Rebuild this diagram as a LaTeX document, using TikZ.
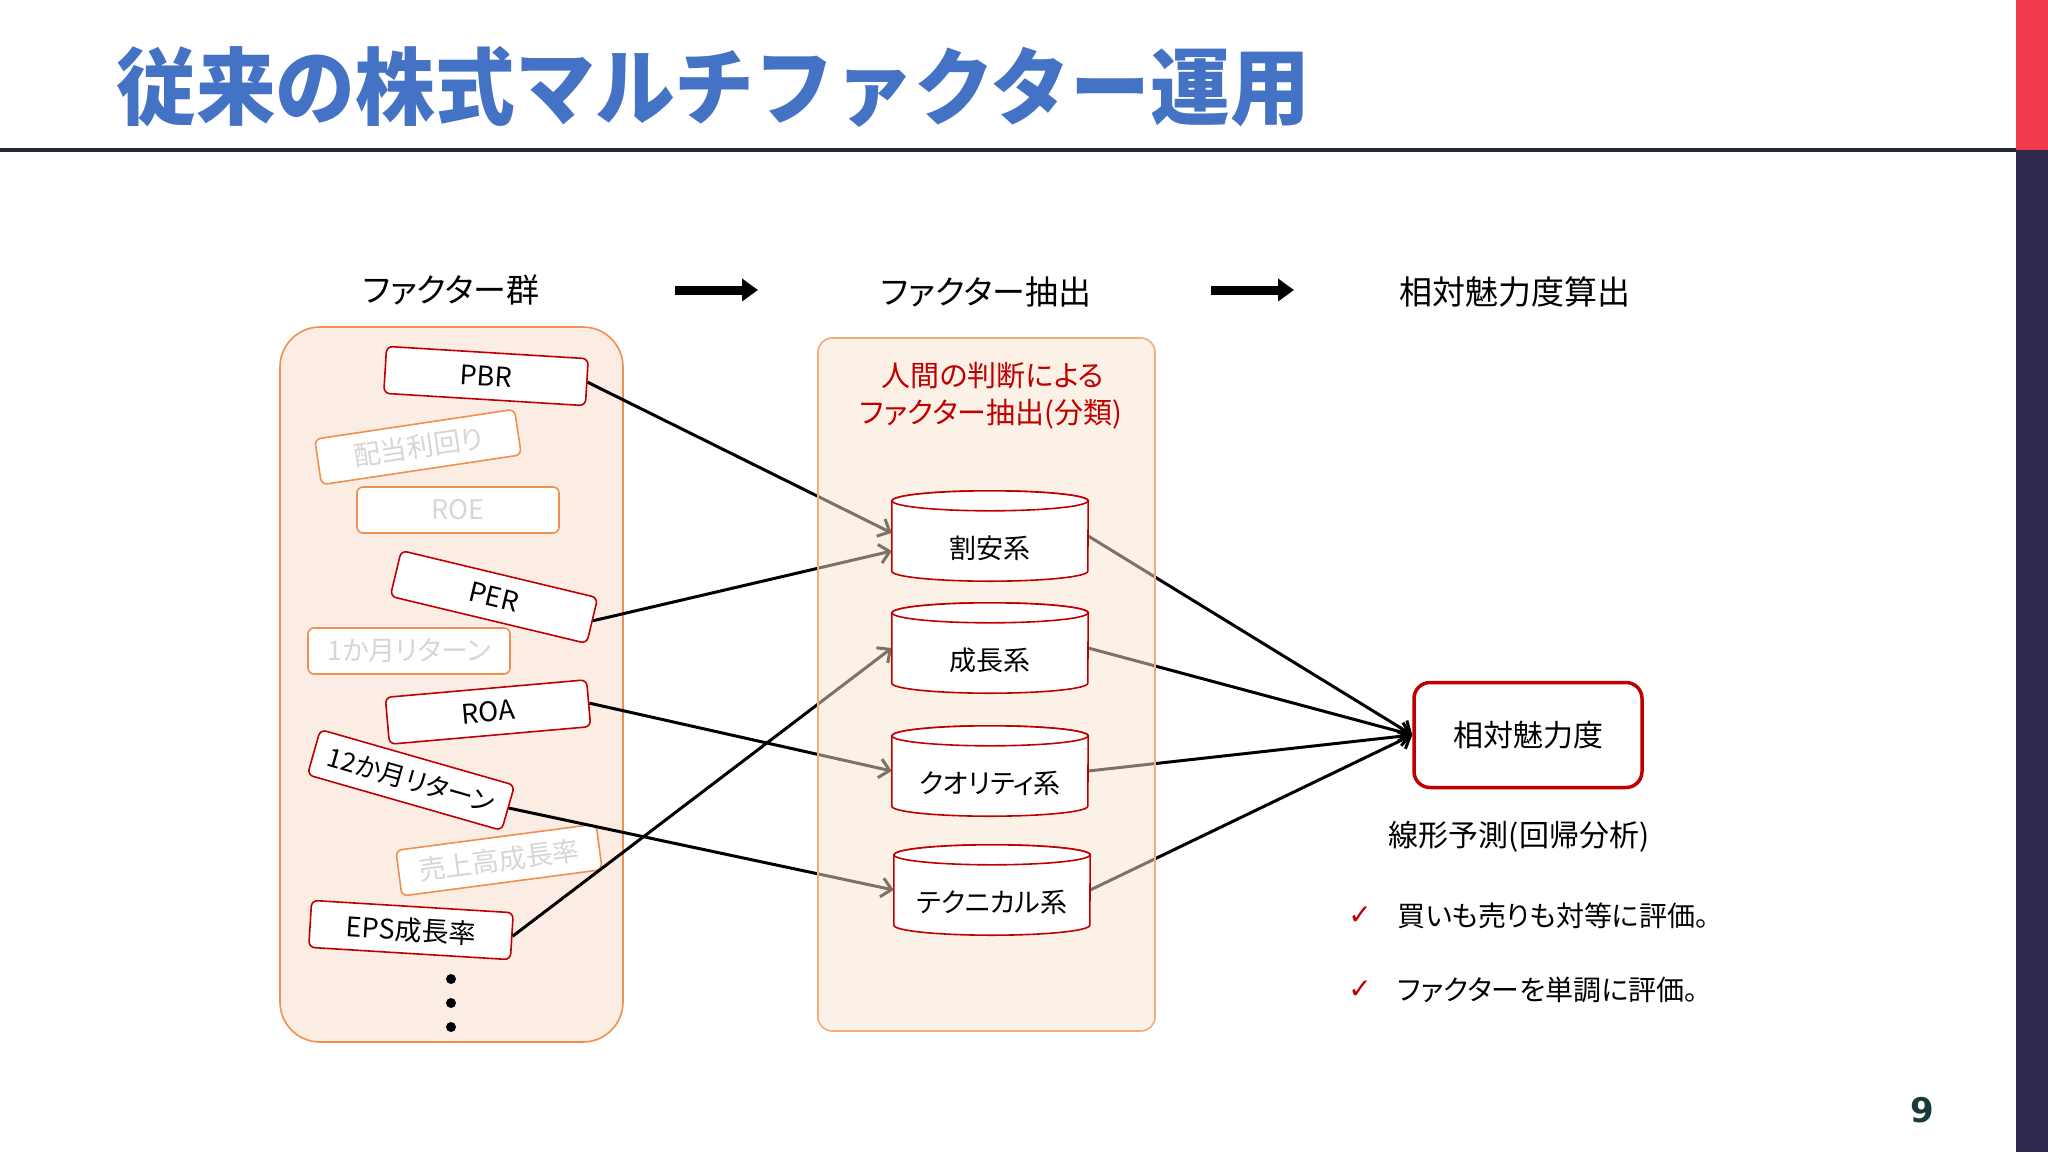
\documentclass[tikz,border=0pt]{standalone}
\usepackage{fontspec}
\setmainfont{Noto Sans CJK JP}[RawFeature=+palt]
\newfontfamily\titlefont{Noto Sans CJK JP}[FakeStretch=0.95]
\newfontfamily\symfont{DejaVu Sans}
\usetikzlibrary{arrows.meta,calc}
\definecolor{titleblue}{HTML}{4472C4}
\definecolor{darkred}{HTML}{C00000}
\definecolor{orangeb}{HTML}{ED7D31}
\definecolor{leftfill}{HTML}{FBEDE4}
\definecolor{midfill}{HTML}{FAE4CE}
\definecolor{fadetext}{HTML}{D6D6D6}
\definecolor{navybar}{HTML}{312A4F}
\definecolor{topred}{HTML}{F23C4B}
\definecolor{rulecol}{HTML}{222A35}
\definecolor{pagenum}{HTML}{173A3A}
\newcommand\fz[1]{\fontsize{#1}{#1}\selectfont}
\newcommand\drawcyl[1]{%
  \path[cylbody] ($(#1.north west)+(0,-10)$) -- ($(#1.south west)+(0,10)$)
    arc[start angle=180,end angle=360,x radius=98pt,y radius=10pt]
    -- ($(#1.north east)+(0,-10)$)
    arc[start angle=0,end angle=180,x radius=98pt,y radius=10pt] -- cycle;
  \draw[cylbody] ($(#1.north)+(0,-10)$) ellipse[x radius=98pt,y radius=10pt];}
\tikzset{
  fbox/.style={draw=darkred, line width=1.6pt, fill=white, rounded corners=6pt,
    minimum width=202pt, minimum height=47pt, inner sep=0pt, font=\fz{27}},
  fadebox/.style={draw=orangeb!85, line width=1.6pt, fill=white, rounded corners=6pt,
    minimum width=202pt, minimum height=46pt, inner sep=0pt, text=fadetext, font=\fz{27}},
  cylnode/.style={draw=none, minimum width=196pt, minimum height=90pt, inner sep=0pt},
  cylbody/.style={fill=white, draw=darkred, line width=1.6pt},
  cyltext/.style={font=\fz{27}},
  conn/.style={line width=3pt, black, -{Straight Barb[length=10pt,width=19pt]}},
  hdr/.style={font=\fz{33}},
  hdrarrow/.style={line width=9pt, -{Triangle[length=16pt,width=22pt]}},
  target/.style={draw=darkred, line width=3.5pt, fill=white, rounded corners=16pt,
    minimum width=228pt, minimum height=105pt, font=\fz{30}},
  body/.style={font=\fz{28}},
  check/.style={text=darkred, font=\symfont\fz{28}},
}
\begin{document}
\begin{tikzpicture}[x=1pt,y=1pt]
\useasboundingbox (0,0) rectangle (2048,-1152);
\fill[white] (0,0) rectangle (2048,-1152);
% header
\node[anchor=west, text=titleblue, font=\titlefont\bfseries\fz{84}, inner sep=0pt] (title) at (116,-87) {従来の株式マルチファクター運用};
\fill[rulecol] (0,-148) rectangle (2016,-152);
\fill[topred] (2016,0) rectangle (2048,-150);
\fill[navybar] (2016,-150) rectangle (2048,-1152);
\node[text=pagenum, font=\symfont\bfseries\fz{34}] (pg) at (1922,-1110) {9};
% column headers
\node[hdr] (H1) at (451,-290) {ファクター群};
\node[hdr] (H2) at (986,-292) {ファクター抽出};
\node[hdr] (H3) at (1515,-292) {相対魅力度算出};
\coordinate (a1s) at (675,-290);
\coordinate (a1e) at (758,-290);
\coordinate (a2s) at (1211,-290);
\coordinate (a2e) at (1294,-290);
\draw[hdrarrow] (a1s) -- (a1e);
\draw[hdrarrow] (a2s) -- (a2e);
% left container
\draw[draw=orangeb!85, fill=leftfill, line width=1.6pt, rounded corners=40pt] (280,-327) rectangle (623,-1042);
\node[fbox, rotate=-3.5] (PBR) at (486,-376) {PBR};
\node[fadebox, rotate=8.5] (DIV) at (418,-447) {配当利回り};
\node[fadebox] (ROE) at (458,-510) {ROE};
\node[fbox, rotate=-13.5] (PER) at (494,-597) {PER};
\node[fadebox] (R1M) at (409,-651) {1か月リターン};
\node[fbox, rotate=5] (ROA) at (488,-712) {ROA};
\node[fbox, rotate=-16, font=\fz{26}] (R12) at (411,-780) {12か月リターン};
\node[fadebox, rotate=7.5] (SAL) at (499,-860) {売上高成長率};
\node[fbox, rotate=-3.5] (EPS) at (411,-930) {EPS成長率};
\fill (451,-979) circle (5pt);
\fill (451,-1003) circle (5pt);
\fill (451,-1027) circle (5pt);
% cylinder anchors
\node[cylnode] (c1) at (990,-536) {};
\node[cylnode] (c2) at (990,-648) {};
\node[cylnode] (c3) at (990,-771) {};
\node[cylnode] (c4) at (992,-890) {};
% target
\node[target] (T) at (1528,-735) {相対魅力度};
% connectors
\draw[conn] (PBR.east) -- ([yshift=3pt]c1.west);
\draw[conn] (PER.east) -- ([yshift=-15pt]c1.west);
\draw[conn] (ROA.east) -- (c3.west);
\draw[conn] (R12.east) -- (c4.west);
\draw[conn] (EPS.east) -- (c2.west);
\draw[conn] (c1.east) -- (T.west);
\draw[conn] (c2.east) -- (T.west);
\draw[conn] (c3.east) -- (T.west);
\draw[conn] (c4.east) -- (T.west);
% middle container overlay
\fill[midfill, fill opacity=0.5, rounded corners=14pt] (818,-338) rectangle (1155,-1031);
\draw[orangeb!65, line width=1.6pt, rounded corners=14pt] (818,-338) rectangle (1155,-1031);
\node[text=darkred, font=\fz{29}] (M1) at (993,-376) {人間の判断による};
\node[text=darkred, font=\fz{29}] (M2) at (991,-414) {ファクター抽出(分類)};
% cylinders
\drawcyl{c1}
\drawcyl{c2}
\drawcyl{c3}
\drawcyl{c4}
\node[cyltext] (l1) at ([yshift=-12pt]c1.center) {割安系};
\node[cyltext] (l2) at ([yshift=-12pt]c2.center) {成長系};
\node[cyltext] (l3) at ([yshift=-12pt]c3.center) {クオリティ系};
\node[cyltext] (l4) at ([yshift=-12pt]c4.center) {テクニカル系};
% right texts
\node[body, font=\fz{30}] (lin) at (1519,-837) {線形予測(回帰分析)};
\node[check] (k1) at (1360,-916) {✓};
\node[check] (k2) at (1360,-990) {✓};
\node[body, anchor=west] (t1) at (1394,-916) {買いも売りも対等に評価。};
\node[body, anchor=west] (t2) at (1394,-990) {ファクターを単調に評価。};
\end{tikzpicture}
\end{document}
